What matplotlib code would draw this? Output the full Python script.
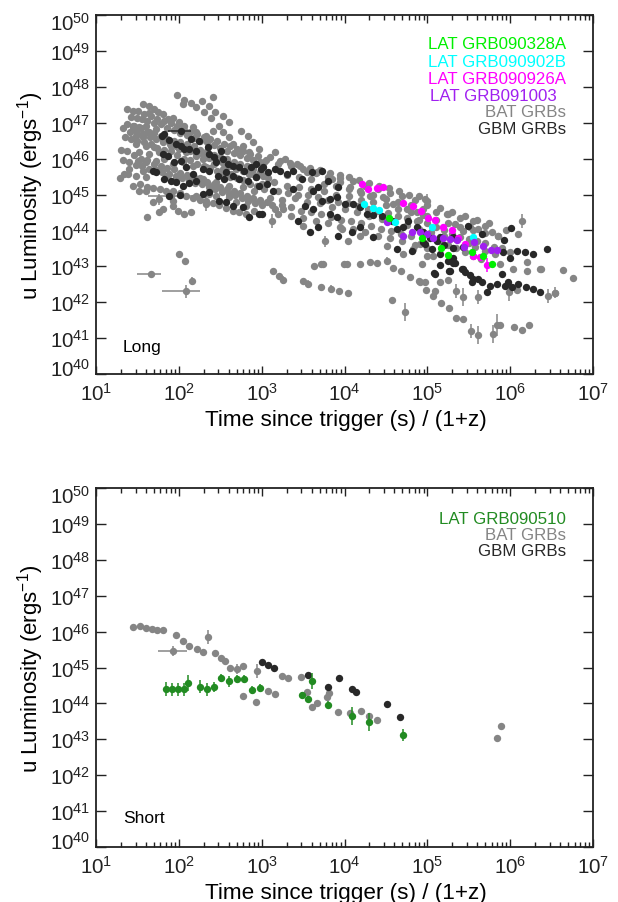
import numpy as np
import matplotlib
matplotlib.use('Agg')
import matplotlib.pyplot as plt
from matplotlib.ticker import FixedLocator, LogLocator, NullLocator, FuncFormatter, NullFormatter
from matplotlib.transforms import ScaledTranslation

plt.rcParams['font.family'] = ['Liberation Sans', 'DejaVu Sans']
plt.rcParams['mathtext.fontset'] = 'custom'
plt.rcParams['mathtext.rm'] = 'Liberation Sans'
plt.rcParams['mathtext.it'] = 'Liberation Sans:italic'
plt.rcParams['mathtext.default'] = 'regular'

# ---------------- data (log10 time [s/(1+z)], log10 luminosity) ----------------
# Long GRBs: BAT (gray) plain points
bat_long = [
    (1.98,47.77),(2.06,47.63),(2.05,47.52),(2.15,47.55),(2.21,47.44),(2.28,47.6),(2.41,47.72),(2.36,47.47),
    (2.30,47.3),(2.44,47.3),(2.39,47.13),(2.53,47.19),(2.61,47.02),(2.48,46.91),(2.75,46.77),(2.84,46.63),
    (2.90,46.46),(2.97,46.27),
    (1.37,47.38),(1.45,47.33),(1.51,47.33),(1.57,47.52),(1.64,47.47),(1.70,47.38),(1.75,47.3),(1.64,47.27),
    (1.81,47.24),(1.87,47.1),(1.93,47.13),(2.0,47.02),(2.06,46.91),(2.17,46.88),(2.21,46.74),(2.33,46.63),
    (2.41,46.77),(2.53,46.74),(2.61,46.6),(2.65,46.41),(2.77,46.35),(2.85,46.18),(2.96,46.07),(3.03,45.9),
    (1.45,46.91),(1.45,46.82),(1.52,46.88),(1.6,46.91),(1.48,46.63),(1.57,46.6),(1.64,46.74),(1.72,46.82),
    (1.48,46.41),(1.6,46.35),(1.7,46.32),(1.81,46.46),(1.52,46.18),(1.64,46.13),(1.76,46.18),(1.51,45.93),
    (1.60,45.9),(1.72,45.93),(1.82,45.99),(1.4,45.71),(1.34,45.57),(1.29,45.46),(1.57,45.65),(1.48,45.52),
    (1.6,45.49),(1.93,45.85),(1.91,46.35),(2.0,46.27),(2.09,46.18),(2.21,46.07),(2.29,45.99),(2.05,45.9),
    (2.17,45.79),(2.33,45.77),(2.43,45.85),(2.53,45.71),(2.63,45.57),(2.73,45.79),(2.81,45.65),(2.9,45.57),
    (3.02,45.52),(1.85,45.52),(1.97,45.43),(2.12,45.38),(2.29,45.43),(2.45,45.35),(2.61,45.24),(2.77,45.21),
    (2.91,45.1),(3.03,45.15),
    (1.52,45.1),(1.6,45.1),(1.69,44.79),(1.93,44.68),(1.62,44.37),(1.76,44.51),(1.99,44.54),(2.06,44.46),
    (2.15,44.51),(2.45,44.96),(2.61,44.93),(2.69,44.79),(2.81,44.68),(2.91,44.54),(2.21,44.96),(2.36,45.01),
    (1.81,44.6),(1.39,45.57),
    (1.35,46.6),(1.42,46.55),(1.5,46.5),(1.58,46.45),(1.66,46.4),(1.74,46.3),(1.82,46.25),(1.9,46.2),
    (1.98,46.1),(2.06,46.0),(2.14,45.95),(2.22,45.85),(2.3,45.8),(2.38,45.75),(2.46,45.65),(2.54,45.6),
    (2.62,45.5),(2.7,45.45),(2.78,45.4),(2.86,45.3),(2.94,45.25),
    (1.38,46.95),(1.46,46.9),(1.54,46.85),(1.62,46.75),(1.7,46.7),(1.78,46.62),(1.86,46.55),(1.94,46.5),
    (2.02,46.45),(2.1,46.4),(2.18,46.35),(2.26,46.25),(2.34,46.2),(2.42,46.1),(2.5,46.05),(2.58,45.98),
    (2.66,45.9),(2.74,45.85),(2.82,45.8),(2.9,45.7),(2.98,45.62),(3.06,45.58),
    (1.45,45.25),(1.53,45.3),(1.61,45.22),(1.69,45.18),(1.77,45.15),(1.85,45.1),(1.93,45.1),(2.01,45.05),
    (2.09,44.95),(2.17,44.9),(2.25,44.85),(2.33,44.82),(2.41,44.75),(2.49,44.7),(2.57,44.62),(2.65,44.55),
    (2.73,44.5),(2.81,44.45),
    (1.3,46.25),(1.38,46.2),(1.46,46.1),(1.54,46.0),(1.62,45.95),(1.7,45.85),(1.78,45.8),(1.86,45.75),
    (1.94,45.7),(2.02,45.6),(2.1,45.55),(2.18,45.5),(2.26,45.45),(2.34,45.35),(2.42,45.3),(2.5,45.2),
    (2.58,45.15),(2.66,45.1),(2.74,45.05),(2.82,44.95),(2.9,44.9),(2.98,44.85),(3.06,44.8),
    (1.55,47.1),(1.62,47.05),(1.7,47.0),(1.78,46.95),(1.86,46.85),(1.94,46.8),(2.02,46.72),(2.1,46.65),
    (2.18,46.58),(2.26,46.5),(2.34,46.45),(2.42,46.38),(2.5,46.3),(2.58,46.22),(2.66,46.15),(2.74,46.1),
    (2.82,46.02),(2.9,45.95),(2.98,45.9),
    (1.33,46.85),(1.41,46.75),(1.49,46.72),(1.57,46.68),(1.65,46.6),(1.73,46.55),(1.81,46.5),(1.89,46.42),
    (1.97,46.35),(2.05,46.3),(2.13,46.22),(2.21,46.15),(2.29,46.1),(2.37,46.02),(2.45,45.95),(2.53,45.88),
    (2.61,45.8),(2.69,45.72),(2.77,45.65),(2.85,45.58),(2.93,45.5),
    (1.32,45.95),(1.4,45.9),(1.48,45.82),(1.56,45.78),(1.64,45.72),(1.72,45.68),(1.8,45.62),(1.88,45.58),
    (1.96,45.52),(2.04,45.45),(2.12,45.4),(2.2,45.33),(2.28,45.28),(2.36,45.2),(2.44,45.15),(2.52,45.08),
    (2.6,45.02),(2.68,44.98),(2.76,44.9),(2.84,44.82),(2.92,44.75),(3.0,44.7),
    (1.42,47.15),(1.5,47.12),(1.58,47.25),(1.66,47.18),(1.74,47.1),(1.82,47.05),(1.9,46.98),(1.98,46.9),
    (2.06,46.8),(2.14,46.75),(2.22,46.68),(2.3,46.6),(2.38,46.55),(2.46,46.5),(2.54,46.42),(2.62,46.35),
    (2.7,46.28),(2.78,46.2),(2.86,46.12),
    (3.16,46.18),(3.28,45.99),(3.43,45.85),(3.55,45.63),(3.67,45.63),(3.85,45.43),(3.95,45.35),(4.07,45.21),
    (4.19,45.1),(4.31,44.96),(4.47,44.93),(4.59,44.74),(4.75,44.6),(4.88,44.51),(5.0,44.4),(4.97,44.87),
    (3.05,45.95),(3.2,45.85),(3.35,45.78),(3.5,45.7),(3.65,45.6),(3.8,45.5),(3.95,45.45),(4.1,45.38),
    (4.25,45.25),(4.4,45.15),(4.55,45.05),(4.7,44.95),(4.85,44.85),(5.0,44.7),(5.15,44.62),(5.3,44.5),
    (5.45,44.4),(5.6,44.3),(5.75,44.22),
    (3.0,45.3),(3.15,45.35),(3.3,45.25),(3.45,45.2),(3.6,45.15),(3.75,45.1),(3.9,45.0),(4.05,44.95),
    (4.2,44.85),(4.35,44.78),(4.5,44.7),(4.65,44.6),(4.8,44.5),(4.95,44.42),(5.1,44.3),(5.25,44.22),
    (5.4,44.1),(5.55,44.0),(5.7,43.92),(5.85,43.85),
    (3.1,44.9),(3.25,44.85),(3.4,44.9),(3.55,44.8),(3.7,44.75),(3.85,44.65),(4.0,44.6),(4.15,44.5),
    (4.3,44.4),(4.45,44.32),(4.6,44.25),(4.75,44.15),(4.9,44.05),(5.05,43.95),(5.2,43.85),(5.35,43.75),
    (5.5,43.65),
    (3.2,44.45),(3.35,44.4),(3.5,44.35),(3.65,44.25),(3.8,44.2),(3.95,44.1),(4.1,44.05),(4.25,43.95),
    (4.4,43.85),(4.55,43.78),(4.7,43.7),(4.85,43.6),(5.0,43.5),
    (3.3,45.55),(3.45,45.5),(3.6,45.42),(3.75,45.3),(3.9,45.25),(4.05,45.15),(4.2,45.05),(4.35,44.98),
    (4.5,44.88),(4.65,44.8),(4.8,44.7),(4.95,44.6),(5.1,44.52),(5.25,44.45),(5.4,44.35),(5.55,44.25),
    (3.1,46.05),(3.22,45.92),(3.34,45.88),(3.46,45.8),(3.58,45.75),(3.7,45.68),(3.82,45.6),(3.94,45.55),
    (4.06,45.5),(4.18,45.4),(4.3,45.32),(4.42,45.25),(4.54,45.18),(4.66,45.1),(4.78,45.0),(4.9,44.95),
    (3.08,45.45),(3.2,45.1),(3.32,45.05),(3.44,45.0),(3.56,44.98),(3.68,44.92),(3.8,44.85),(3.92,44.8),
    (4.04,44.75),(4.16,44.68),(4.28,44.6),(4.4,44.55),(4.52,44.48),(4.64,44.4),(4.76,44.35),(4.88,44.25),
    (3.12,44.7),(3.24,44.7),(3.36,44.65),(3.48,44.55),(3.6,44.5),(3.72,44.45),(3.84,44.38),(3.96,44.3),
    (4.08,44.25),(4.2,44.2),(4.32,44.12),(4.44,44.05),(4.56,43.98),(4.68,43.9),(4.8,43.85),
    (3.16,44.6),(3.26,44.6),(3.5,44.12),(3.97,44.04),(4.04,43.70),(4.19,43.84),(4.51,43.57),(4.71,43.34),
    (4.83,43.48),(4.91,43.62),(4.99,43.29),
    (5.24,44.46),(5.33,44.18),(5.43,43.98),(5.52,44.09),(5.61,44.04),(5.7,44.12),(5.78,43.96),(5.85,43.84),
    (5.95,44.01),(6.09,43.9),(5.58,43.54),(5.70,43.43),(5.82,43.34),(5.88,43.06),(6.03,42.93),(6.2,43.12),
    (6.36,42.93),(6.64,42.90),(6.76,42.67),(4.94,43.06),(5.07,43.29),(4.97,42.56),(5.09,42.31),
    (4.9,44.3),(5.0,44.2),(5.1,44.1),(5.2,44.0),(5.3,43.9),(5.4,43.82),(5.5,43.75),(5.6,43.7),
    (5.7,43.65),(5.8,43.55),(5.9,43.5),(6.0,43.4),
    (4.95,43.95),(5.05,43.85),(5.15,43.7),(5.25,43.6),(5.35,43.5),(5.45,43.4),(5.55,43.3),(5.65,43.2),
    (3.14,42.87),(3.21,42.73),(3.50,42.59),(3.72,42.42),(3.93,42.31),(4.04,42.26),(4.57,42.06),
    (3.63,43.01),(3.72,43.06),(3.74,43.06),(3.99,43.06),(4.03,43.06),(4.19,43.06),(4.31,43.12),(4.39,43.09),
    (4.59,42.95),(4.68,42.87),(4.79,42.70),(4.90,42.59),(4.98,42.34),(5.07,42.17),(5.17,41.98),(5.26,41.84),
    (5.35,41.56),(5.43,41.53),(5.88,41.36),(6.05,41.31),(6.14,41.23),(6.23,41.36),
    (4.91,42.56),(5.15,42.56),(5.25,42.62),(6.08,42.34),(6.54,42.26),(6.20,42.87),(6.37,42.92),
    (2.0,43.34),(2.07,43.15),
]
# Long GRBs: BAT points with vertical error bars (log t, log L, err dex)
bat_long_err = [
    (1.76,44.87,0.15),(1.93,44.82,0.15),(2.33,44.74,0.2),(3.12,44.26,0.2),(3.76,43.7,0.15),(5.0,44.82,0.2),
    (6.14,44.26,0.2),(3.26,42.62,0.12),(3.56,42.51,0.12),(3.84,42.37,0.1),(4.73,41.73,0.25),(4.51,43.15,0.12),
    (5.53,41.20,0.2),(5.61,41.09,0.25),(5.79,41.11,0.25),(5.84,41.36,0.3),(5.35,42.31,0.2),(5.43,42.14,0.25),
    (5.61,42.14,0.2),(5.99,42.28,0.25),(6.46,42.17,0.2),(6.54,42.26,0.15),(2.16,42.59,0.12),
]
# Long GRBs: BAT points with horizontal bars (log t, log L, log t low, log t high, y err)
bat_long_xbar = [(1.66,42.79,1.50,1.78,0.0),(2.09,42.31,1.80,2.26,0.18),(1.90,44.96,1.63,2.20,0.0)]

# Long GRBs: GBM (dark) points
gbm_long = [
    (1.82,46.69),(1.88,46.52),(1.97,46.41),(2.03,46.35),(2.06,46.27),(2.15,46.55),(2.12,46.27),(2.21,46.21),
    (2.24,46.49),(2.35,46.32),(2.36,46.13),(2.43,46.04),(2.51,46.21),(2.45,45.9),(2.53,45.99),(2.59,45.85),
    (2.65,45.79),(2.73,45.77),(2.79,45.65),(2.87,45.77),(2.93,45.85),(2.99,45.71),(1.81,46.13),(1.87,46.07),
    (1.94,45.9),(2.03,45.93),(2.09,45.77),(2.17,45.57),(2.29,45.71),(2.36,45.65),(2.47,45.52),(2.55,45.43),
    (2.57,45.63),(2.65,45.52),(2.73,45.43),(2.83,45.38),(2.93,45.49),(2.97,45.24),(1.69,45.65),(1.72,45.63),
    (1.82,45.43),(1.91,45.38),(1.97,45.35),(2.05,45.24),(2.12,45.32),(2.21,45.38),(2.29,45.01),(2.36,45.07),
    (2.48,44.82),(2.57,44.79),(2.65,44.68),(2.77,44.65),(2.85,44.37),(2.97,44.46),(1.80,46.63),
    (1.88,44.96),(2.02,45.0),
    (3.02,45.77),(3.08,45.63),(3.16,45.71),(3.22,45.65),(3.31,45.57),(3.38,45.65),(3.14,45.1),(3.06,45.29),
    (3.38,45.15),(3.49,45.43),(3.61,45.63),(3.68,45.21),(3.62,45.1),(3.73,45.65),(3.8,45.38),(3.92,45.21),
    (3.83,44.87),(3.73,44.82),(3.62,44.6),(3.52,44.68),(3.44,44.26),(3.58,43.96),(3.68,44.09),(3.91,44.93),
    (4.01,44.74),(4.1,44.74),(4.19,44.65),(4.27,44.46),(4.34,44.43),(4.45,44.4),(4.57,44.26),(4.63,44.04),
    (4.71,44.09),(4.77,44.26),(3.92,43.84),(4.09,43.96),(4.19,44.09),(4.34,43.82),(4.63,43.48),(4.81,43.43),
    (3.0,44.46),(3.83,44.46),(3.91,44.37),
    (4.88,44.1),(4.95,43.95),(5.03,43.8),(5.12,43.7),(5.2,43.6),(4.95,43.67),(5.09,42.79),(5.31,43.82),
    (5.15,43.82),
    (6.44,43.48),(6.28,43.34),(6.18,43.40),(6.08,43.43),(6.0,43.23),(5.91,43.40),(6.01,44.07),(5.93,43.73),
    (5.66,43.90),(5.49,44.12),(5.43,43.54),(5.31,43.51),(5.31,43.23),(5.25,43.15),(5.15,43.34),(5.06,43.48),
    (4.97,43.62),(5.43,42.92),(5.33,43.09),(5.26,42.87),
    (5.08,42.81),(5.15,43.04),(5.27,42.87),(5.31,43.09),(5.42,42.92),(5.45,42.84),(5.52,42.76),(5.55,42.65),
    (5.54,42.56),(5.61,42.65),(5.66,42.56),(5.72,42.28),(5.76,42.45),(5.84,42.51),(5.90,42.79),(5.94,42.45),
    (5.97,42.56),(6.02,42.42),(6.09,42.51),(6.19,42.42),(6.28,42.37),(6.36,42.28),
]
gbm_long_xbar = [(2.03,46.77,1.87,2.15)]

# LAT GRBs (long)
lat_090328A = [(4.54,44.35),(4.94,43.79),(5.17,43.51),(5.25,43.31),(5.54,43.40),(5.67,43.29),(5.78,43.06)]
lat_090902B = [(4.24,44.74),(4.34,44.62),(4.42,44.57),(4.61,44.23),(5.06,44.09),(5.55,43.82)]
lat_090926A = [(4.21,45.29),(4.28,45.15),(4.39,45.18),(4.46,45.21),(4.71,44.76),(4.83,44.68),(4.92,44.54),
               (5.01,44.35),(5.09,44.29),(5.19,44.09),(5.30,44.01),(5.37,43.79),(5.45,43.62),(5.55,43.29),
               (5.64,43.26)]
lat_090926A_err = [(5.72,43.04,0.2)]
lat_091003 = [(4.51,44.23),(4.71,43.84),(4.82,43.96),(4.91,43.96),(5.0,43.90),(5.07,43.79),(5.19,43.79),
              (5.27,43.76),(5.36,43.73),(5.44,43.54),(5.56,43.68),(5.67,43.57),(5.77,43.45),(5.84,43.45)]

# Short GRBs
bat_short = [(1.45,46.13),(1.53,46.16),(1.6,46.1),(1.68,46.07),(1.74,46.04),(1.81,46.04),(1.97,45.9),
             (2.05,45.74),(2.12,45.6),(2.22,45.52),(2.29,45.43),(2.44,45.4),(2.51,45.26),(2.56,45.18),
             (2.62,44.99),(2.77,45.04),(2.78,44.21),(2.93,44.03),(3.08,44.35),(3.16,44.26),(3.25,44.77),
             (3.32,44.71),(3.48,44.73),(3.55,44.32),(3.61,43.9),(3.67,44.0),(3.79,44.17),(3.81,44.29),
             (3.92,43.76),(4.07,43.73),(4.2,43.79),(4.3,43.65),(4.39,43.54),(5.84,43.04),(5.89,43.37)]
bat_short_err = [(2.35,45.85,0.2),(2.7,44.96,0.15),(2.94,44.9,0.2)]
bat_short_xbar = [(1.93,45.46,1.75,2.10,0.13)]
gbm_short = [(3.0,45.15),(3.08,45.07),(3.15,44.99),(3.56,44.79),(3.8,44.46),(3.93,44.71),(4.09,44.4),
             (4.14,44.32),(4.51,43.98),(4.67,43.62)]
lat_090510 = [(1.85,44.40,0.2),(1.92,44.40,0.18),(1.99,44.40,0.18),(2.06,44.40,0.18),(2.11,44.57,0.22),
              (2.26,44.46,0.18),(2.34,44.40,0.18),(2.42,44.46,0.15),(2.51,44.71,0.12),(2.6,44.62,0.15),
              (2.7,44.68,0.12),(2.79,44.68,0.12),(2.88,44.37,0.12),(2.98,44.43,0.12),(3.49,44.23,0.08),
              (3.56,44.12,0.08),(3.61,44.62,0.22),(3.8,43.96,0.1),(4.09,43.65,0.25),(4.3,43.48,0.25),
              (4.71,43.12,0.18)]

x_decades = [1, 2, 3, 4, 5, 6, 7]
y_decades = list(range(40, 51))

C_BAT = '#858585'
C_GBM = '#282828'
C_G1 = '#00f000'
C_CY = '#00ffff'
C_MG = '#ff00ff'
C_PU = '#a020f0'
C_G2 = '#228b22'
MS = 5.3


def pts(ax, data, color, z):
    a = np.array(data, dtype=float)
    ax.plot(10.0**a[:, 0], 10.0**a[:, 1], 'o', ms=MS, color=color, mec='none', zorder=z)


def errpts(ax, data, color, z):
    a = np.array(data, dtype=float)
    y = 10.0**a[:, 1]
    lo = y - 10.0**(a[:, 1] - a[:, 2])
    hi = 10.0**(a[:, 1] + a[:, 2]) - y
    ax.errorbar(10.0**a[:, 0], y, yerr=[lo, hi], fmt='o', ms=MS, color=color, mec='none',
                ecolor=color, elinewidth=1.1, capsize=0, zorder=z)


def xbarpts(ax, data, color, z):
    for row in data:
        lt, lL, l0, l1 = row[:4]
        ye = row[4] if len(row) > 4 else 0.0
        y = 10.0**lL
        x = 10.0**lt
        kw = {}
        if ye > 0:
            kw['yerr'] = [[y - 10.0**(lL - ye)], [10.0**(lL + ye) - y]]
        ax.errorbar([x], [y], xerr=[[x - 10.0**l0], [10.0**l1 - x]], fmt='o', ms=MS, color=color,
                    mec='none', ecolor=color, elinewidth=1.1, capsize=0, zorder=z, **kw)


fig = plt.figure(figsize=(6.18, 9.03), dpi=100)
ax1 = fig.add_axes([96/618, 1-375/903, 497/618, 359/903])
ax2 = fig.add_axes([96/618, 1-848/903, 497/618, 359/903])

for ax in (ax1, ax2):
    ax.set_xscale('log')
    ax.set_yscale('log')
    ax.set_xlim(10.0**x_decades[0], 10.0**x_decades[-1])
    ax.set_ylim(10.0**y_decades[0], 10.0**y_decades[-1])
    ax.xaxis.set_major_locator(FixedLocator([10.0**d for d in x_decades]))
    ax.xaxis.set_minor_locator(LogLocator(base=10, subs=np.arange(2, 10), numticks=50))
    ax.xaxis.set_minor_formatter(NullFormatter())
    ax.yaxis.set_major_locator(FixedLocator([10.0**d for d in y_decades]))
    ax.yaxis.set_minor_locator(NullLocator())
    fmt = FuncFormatter(lambda v, p: r'$10^{%d}$' % int(round(np.log10(v))))
    ax.xaxis.set_major_formatter(fmt)
    ax.yaxis.set_major_formatter(fmt)
    ax.tick_params(axis='both', which='both', direction='in', top=True, right=True,
                   labelsize=14.8, colors='#222222', width=1.0)
    ax.tick_params(axis='x', which='major', length=6, pad=6.0)
    ax.tick_params(axis='x', which='minor', length=3.3)
    ax.tick_params(axis='y', which='major', length=7.2, pad=4)
    for s in ax.spines.values():
        s.set_linewidth(1.3)
        s.set_color('#222222')
    ax.set_xlabel('Time since trigger (s) / (1+z)', fontsize=16.2)
    ax.set_ylabel(r'u Luminosity (ergs$^{-1}$)', fontsize=16.0)
    ax.xaxis.set_label_coords(0.502, -0.098)
    ax.yaxis.set_label_coords(-0.101, 0.5)
    # end labels of the y axis are nudged inward, as in the reference
    yt = ax.yaxis.get_major_ticks(len(y_decades))
    yt[0].label1.set_transform(yt[0].label1.get_transform() +
                               ScaledTranslation(0, 5.5/72, fig.dpi_scale_trans))
    yt[-1].label1.set_transform(yt[-1].label1.get_transform() +
                                ScaledTranslation(0, -4.0/72, fig.dpi_scale_trans))

# Long panel
pts(ax1, bat_long, C_BAT, 2)
errpts(ax1, bat_long_err, C_BAT, 2)
xbarpts(ax1, bat_long_xbar, C_BAT, 2)
pts(ax1, gbm_long, C_GBM, 3)
xbarpts(ax1, gbm_long_xbar, C_GBM, 3)
pts(ax1, lat_090902B, C_CY, 4)
pts(ax1, lat_090926A, C_MG, 4)
errpts(ax1, lat_090926A_err, C_MG, 4)
pts(ax1, lat_091003, C_PU, 4)
pts(ax1, lat_090328A, C_G1, 5)

leg1 = [('LAT GRB090328A', C_G1, 0.908, 0.9457), ('LAT GRB090902B', C_CY, 0.859, 0.9457),
        ('LAT GRB090926A', C_MG, 0.811, 0.9457), ('LAT GRB091003', C_PU, 0.763, 0.928),
        ('BAT GRBs', C_BAT, 0.719, 0.9457), ('GBM GRBs', C_GBM, 0.672, 0.9457)]
for txt, c, yy, xx in leg1:
    ax1.text(xx, yy, txt, color=c, fontsize=12.2, ha='right', va='baseline', transform=ax1.transAxes)
ax1.text(0.054, 0.065, 'Long', fontsize=12.5, ha='left', va='baseline', transform=ax1.transAxes)

# Short panel
pts(ax2, bat_short, C_BAT, 2)
errpts(ax2, bat_short_err, C_BAT, 2)
xbarpts(ax2, bat_short_xbar, C_BAT, 2)
pts(ax2, gbm_short, C_GBM, 3)
errpts(ax2, lat_090510, C_G2, 4)

leg2 = [('LAT GRB090510', C_G2, 0.9025), ('BAT GRBs', C_BAT, 0.858), ('GBM GRBs', C_GBM, 0.813)]
for txt, c, yy in leg2:
    ax2.text(0.9457, yy, txt, color=c, fontsize=12.2, ha='right', va='baseline', transform=ax2.transAxes)
ax2.text(0.054, 0.070, 'Short', fontsize=12.5, ha='left', va='baseline', transform=ax2.transAxes)

fig.savefig('out.png', dpi=100)
